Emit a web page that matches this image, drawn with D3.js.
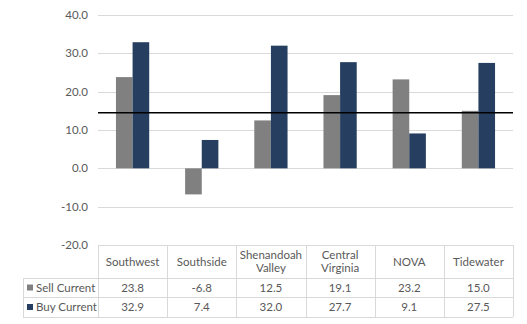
<!DOCTYPE html>
<html><head><meta charset="utf-8">
<script src="https://cdn.jsdelivr.net/npm/d3@7"></script>
<style>body{margin:0;background:#fff}svg{display:block}text{font-family:Lato,"Open Sans",sans-serif}</style>
</head><body>
<script>
const categories = ["Southwest","Southside","Shenandoah Valley","Central Virginia","NOVA","Tidewater"];
const headerLines = [["Southwest"],["Southside"],["Shenandoah","Valley"],["Central","Virginia"],["NOVA"],["Tidewater"]];
const sellCurrent = [23.8,-6.8,12.5,19.1,23.2,15.0];
const buyCurrent = [32.9,7.4,32.0,27.7,9.1,27.5];
const seriesNames = ["Sell Current","Buy Current"];
const yTicks = [-20,-10,0,10,20,30,40];
const avgLine = 14.5;

(function(){
const W=527,H=324;
const svg=d3.select("body").append("svg").attr("width",W).attr("height",H);
const pL=98,pR=513,pT=15,pB=245;
const fmt=v=>d3.format(".1f")(v).replace("\u2212","-");
const y=d3.scaleLinear().domain([-20,40]).range([pB,pT]);
const x=d3.scaleBand().domain(categories).range([pL,pR]);
const xs=d3.scaleBand().domain(seriesNames).range([0,x.bandwidth()]).paddingInner(0).paddingOuter(1.08);
const colors=["#808080","#263f60"];
const txt="#595959", grid="#d9d9d9";

svg.append("g").selectAll("line").data(yTicks.filter(t=>t>-20)).join("line")
 .attr("x1",pL).attr("x2",pR).attr("y1",d=>Math.round(y(d))+0.5).attr("y2",d=>Math.round(y(d))+0.5)
 .attr("stroke",grid).attr("stroke-width",1);
svg.append("g").selectAll("text").data(yTicks).join("text")
 .attr("x",88).attr("y",d=>y(d)+4).attr("text-anchor","end").attr("font-size",11.5).attr("fill",txt)
 .text(fmt);

const data=[sellCurrent,buyCurrent];
data.forEach((arr,si)=>{
 svg.append("g").selectAll("rect").data(arr).join("rect")
  .attr("x",(d,i)=>x(categories[i])+xs(seriesNames[si]))
  .attr("width",xs.bandwidth())
  .attr("y",d=>y(Math.max(0,d)))
  .attr("height",d=>Math.abs(y(d)-y(0)))
  .attr("fill",colors[si]);
});
svg.append("line").attr("x1",pL).attr("x2",pR).attr("y1",y(avgLine)).attr("y2",y(avgLine))
 .attr("stroke","#000").attr("stroke-width",1.3);

const rowTops=[245,278,297,317];
const tableLeft=23;
const tg=svg.append("g").attr("stroke",grid).attr("stroke-width",1).attr("shape-rendering","crispEdges");
tg.append("line").attr("x1",pL).attr("x2",pR).attr("y1",rowTops[0]).attr("y2",rowTops[0]);
rowTops.slice(1).forEach(r=>tg.append("line").attr("x1",tableLeft).attr("x2",pR).attr("y1",r).attr("y2",r));
const vx=categories.map(c=>x(c)).concat([pR]);
vx.forEach(v=>tg.append("line").attr("x1",Math.round(v)).attr("x2",Math.round(v)).attr("y1",rowTops[0]).attr("y2",rowTops[3]));
tg.append("line").attr("x1",tableLeft).attr("x2",tableLeft).attr("y1",rowTops[1]).attr("y2",rowTops[3]);

headerLines.forEach((lines,i)=>{
 const cx=x(categories[i])+x.bandwidth()/2;
 const cy=(rowTops[0]+rowTops[1])/2;
 const lh=13;
 lines.forEach((l,j)=>{
  svg.append("text").attr("x",cx).attr("y",cy+(j-(lines.length-1)/2)*lh+4)
   .attr("text-anchor","middle").attr("font-size",11.5).attr("fill",txt).text(l);
 });
});
data.forEach((arr,si)=>{
 const cy=(rowTops[si+1]+rowTops[si+2])/2;
 svg.append("rect").attr("x",27).attr("y",cy-3).attr("width",6).attr("height",6).attr("fill",colors[si]);
 svg.append("text").attr("x",36).attr("y",cy+4).attr("font-size",11.5).attr("fill",txt).text(seriesNames[si]);
 arr.forEach((v,i)=>{
  svg.append("text").attr("x",x(categories[i])+x.bandwidth()/2).attr("y",cy+4)
   .attr("text-anchor","middle").attr("font-size",11.5).attr("fill",txt).text(fmt(v));
 });
});
})();
</script>
</body></html>
